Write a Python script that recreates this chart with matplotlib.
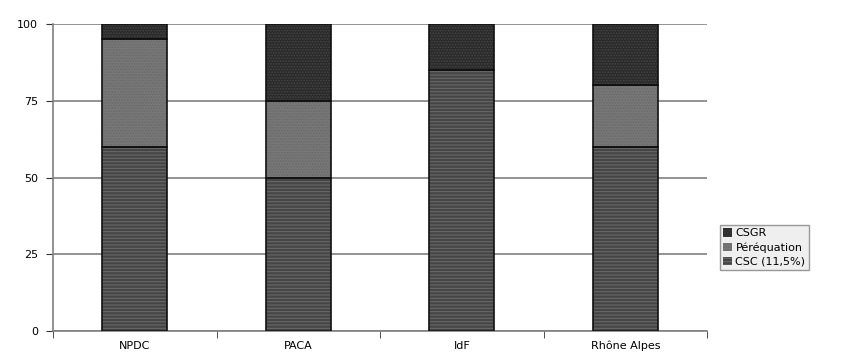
import numpy as np
import matplotlib
matplotlib.use("Agg")
import matplotlib.pyplot as plt
from matplotlib.patches import Patch

plt.rcParams['font.family'] = ['DejaVu Sans']
plt.rcParams['hatch.linewidth'] = 0.8

# données
regions = ['NPDC', 'PACA', 'IdF', 'Rhône Alpes']
csc = [60, 50, 85, 60]
perequation = [35, 25, 0, 20]
csgr = [5, 25, 15, 20]
series_names = ['CSC (11,5%)', 'Péréquation', 'CSGR']

# style des séries : fond, couleur du motif, motif
styles = [
    ('#464646', '#686868', '-----'),
    ('#777777', '#6a6a6a', '.' * 6),
    ('#2a2a2a', '#464646', '.' * 6),
]

fig = plt.figure(figsize=(8.42, 3.56), dpi=100)
ax = fig.add_axes([0.063, 0.0702, 0.7767, 0.8624])

x = np.arange(len(regions))
width = 0.4
bottom = np.zeros(len(regions))
handles = []
for vals, name, (fc, hc, hatch) in zip([csc, perequation, csgr], series_names, styles):
    vals = np.array(vals, dtype=float)
    # fond + motif
    ax.bar(x, vals, width, bottom=bottom, color=fc, hatch=hatch,
           edgecolor=hc, linewidth=0, zorder=2)
    # contour noir
    ax.bar(x, vals, width, bottom=bottom, fill=False,
           edgecolor='#111111', linewidth=1.2, zorder=3)
    handles.append(Patch(facecolor=fc, hatch=hatch, edgecolor=hc, linewidth=0))
    bottom += vals

ax.set_xlim(-0.5, len(regions) - 0.5)
ax.set_ylim(0, 100)
ax.set_yticks([0, 25, 50, 75, 100])
ax.set_xticks(x)
ax.set_xticklabels(regions)
ax.set_xticks(np.arange(-0.5, len(regions)), minor=True)
ax.tick_params(axis='x', which='major', length=0, pad=7, labelsize=8)
ax.tick_params(axis='x', which='minor', length=5, color='#333333', direction='out')
ax.tick_params(axis='y', length=5, color='#333333', direction='out', pad=6, labelsize=8)

ax.yaxis.grid(True, color='#808080', linewidth=1.2, zorder=0)
ax.set_axisbelow(True)
for side in ['top', 'right']:
    ax.spines[side].set_visible(False)
ax.spines['left'].set_color('#808080')
ax.spines['bottom'].set_color('#808080')
ax.spines['left'].set_linewidth(1.2)
ax.spines['bottom'].set_linewidth(1.2)

leg = fig.legend(handles[::-1], series_names[::-1], loc='upper left',
                 bbox_to_anchor=(0.855, 0.368), fontsize=8, frameon=True,
                 fancybox=False, handlelength=0.8, handleheight=0.8,
                 handletextpad=0.3, borderpad=0.3, labelspacing=0.35,
                 borderaxespad=0)
leg.get_frame().set_facecolor('#ececec')
leg.get_frame().set_edgecolor('#808080')
leg.get_frame().set_linewidth(1.0)

fig.savefig('out.png', dpi=100)
